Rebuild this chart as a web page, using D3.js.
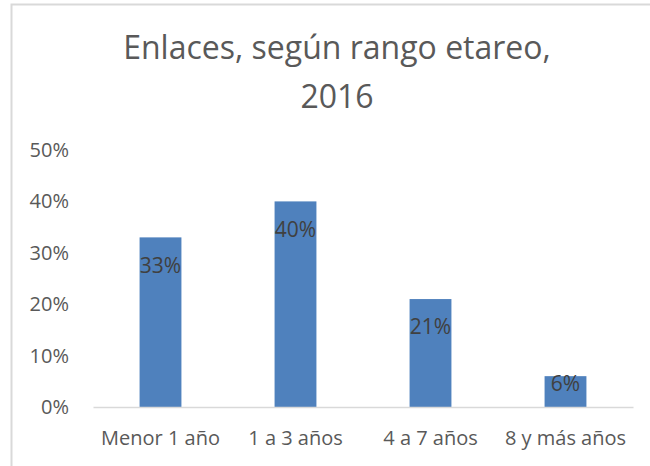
<!DOCTYPE html>
<html>
<head>
<meta charset="utf-8">
<script src="https://cdn.jsdelivr.net/npm/d3@7"></script>
<style>
  body { margin: 0; background: #fff; }
  svg { display: block; font-family: "Open Sans", sans-serif; }
</style>
</head>
<body>
<svg id="chart" width="650" height="466"></svg>
<script>
// data
const categories = ["Menor 1 año", "1 a 3 años", "4 a 7 años", "8 y más años"];
const values = [0.33, 0.40, 0.21, 0.06];
const yTicks = [0, 0.1, 0.2, 0.3, 0.4, 0.5];
const titleLines = ["Enlaces, según rango etareo,", "2016"];

const svg = d3.select("#chart");
const margin = { top: 150, right: 17, bottom: 59, left: 93 };
const innerWidth = 650 - margin.left - margin.right;
const innerHeight = 466 - margin.top - margin.bottom;

// chart border: only the left and top edges fall inside the frame
svg.append("path")
    .attr("d", "M11.5,466V4.5H650")
    .attr("fill", "none")
    .attr("stroke", "#d9d9d9")
    .attr("stroke-width", 2);

// title
svg.append("g")
    .selectAll("text")
    .data(titleLines)
    .enter().append("text")
    .attr("x", 337)
    .attr("y", (d, i) => 59 + i * 49)
    .attr("text-anchor", "middle")
    .attr("fill", "#595959")
    .style("font-size", "32px")
    .text(d => d);

const g = svg.append("g")
    .attr("transform", "translate(" + margin.left + "," + margin.top + ")");

const x = d3.scaleBand()
    .domain(categories)
    .range([0, innerWidth])
    .paddingInner(0.69)
    .paddingOuter(0.345);

const y = d3.scaleLinear()
    .domain([0, 0.5])
    .range([innerHeight, 0]);

// y axis labels, no line
const yAxis = g.append("g")
    .call(d3.axisLeft(y).tickValues(yTicks).tickFormat(d3.format(".0%")).tickSize(0).tickPadding(24));
yAxis.select(".domain").remove();
yAxis.selectAll("text")
    .attr("fill", "#595959")
    .style("font-family", "Open Sans, sans-serif")
    .style("font-size", "20px");

// bars
g.selectAll(".bar")
    .data(values)
    .enter().append("rect")
    .attr("class", "bar")
    .attr("x", (d, i) => x(categories[i]))
    .attr("y", d => y(d))
    .attr("width", x.bandwidth())
    .attr("height", d => innerHeight - y(d))
    .attr("fill", "#4f81bd");

// x axis
const xAxis = g.append("g")
    .attr("transform", "translate(0," + innerHeight + ")")
    .call(d3.axisBottom(x).tickSize(0).tickPadding(24));
xAxis.select(".domain")
    .attr("stroke", "#d9d9d9")
    .attr("stroke-width", 1.5);
xAxis.selectAll("text")
    .attr("fill", "#595959")
    .style("font-family", "Open Sans, sans-serif")
    .style("font-size", "20px");

// data labels, inside end of the bars
g.selectAll(".label")
    .data(values)
    .enter().append("text")
    .attr("class", "label")
    .attr("x", (d, i) => x(categories[i]) + x.bandwidth() / 2)
    .attr("y", d => Math.min(y(d) + 28, innerHeight - 23))
    .attr("dy", "0.35em")
    .attr("text-anchor", "middle")
    .attr("fill", "#404040")
    .style("font-size", "21px")
    .text(d => d3.format(".0%")(d));
</script>
</body>
</html>
